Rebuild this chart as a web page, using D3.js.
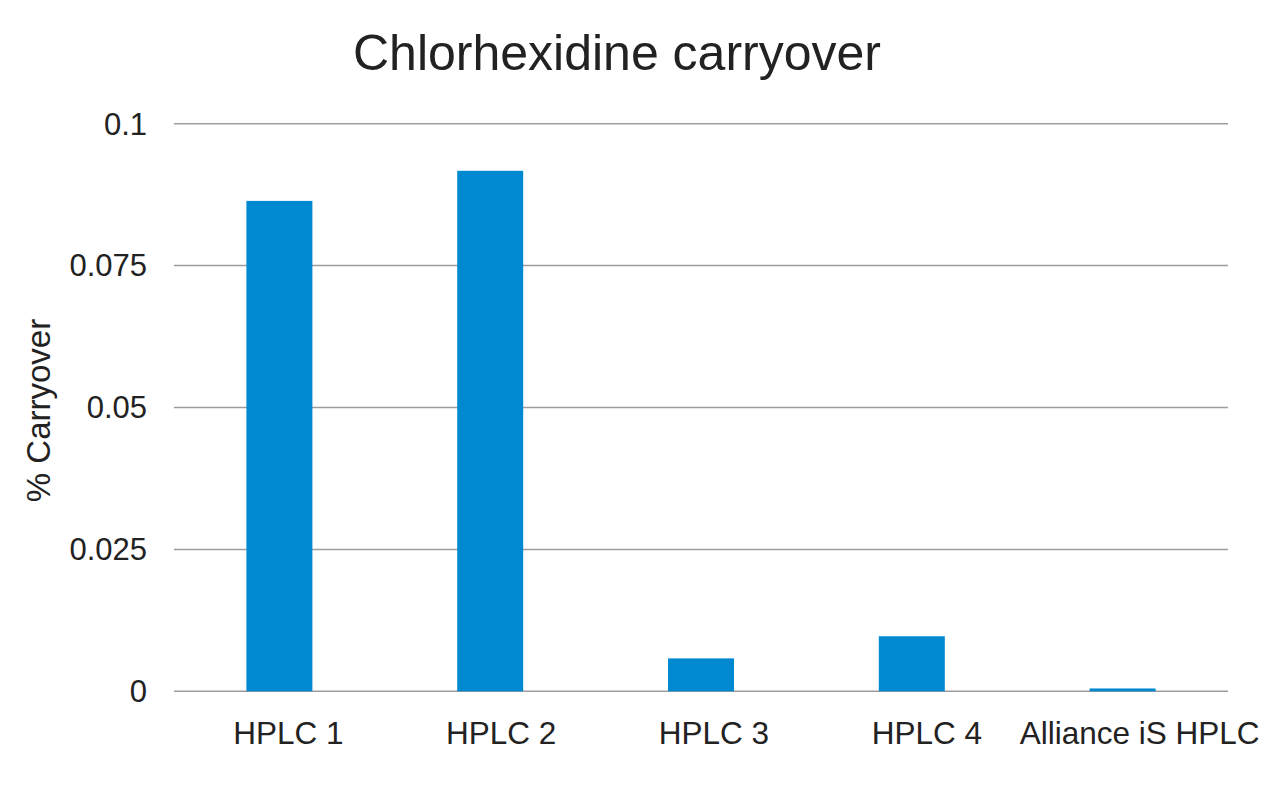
<!DOCTYPE html>
<html>
<head>
<meta charset="utf-8">
<script src="https://cdn.jsdelivr.net/npm/d3@7"></script>
<style>
  html, body { margin: 0; padding: 0; background: #fff; }
  svg { display: block; font-family: "Liberation Sans", Arial, sans-serif; }
</style>
</head>
<body>
<svg id="chart" width="1280" height="785"></svg>
<script>
const categories = ["HPLC 1", "HPLC 2", "HPLC 3", "HPLC 4", "Alliance iS HPLC"];
const carryover = [0.0864, 0.0917, 0.0058, 0.0097, 0.0005];
const yTicks = [0, 0.025, 0.05, 0.075, 0.1];
const yTickLabels = ["0", "0.025", "0.05", "0.075", "0.1"];
const chartTitle = "Chlorhexidine carryover";
const yTitle = "% Carryover";

const svg = d3.select("#chart");
const margin = { left: 174, right: 52, top: 123.7, bottom: 93.7 };
const W = 1280, H = 785;

const x = d3.scaleBand()
  .domain(categories)
  .range([margin.left, W - margin.right])
  .paddingInner(0.687)
  .paddingOuter(0.3435);

const y = d3.scaleLinear()
  .domain([0, 0.1])
  .range([H - margin.bottom, margin.top]);

// gridlines
svg.append("g")
  .selectAll("line")
  .data(yTicks)
  .join("line")
  .attr("x1", margin.left)
  .attr("x2", W - margin.right)
  .attr("y1", d => y(d))
  .attr("y2", d => y(d))
  .attr("stroke", "#9d9d9d")
  .attr("stroke-width", 1.5);

// y tick labels
svg.append("g")
  .selectAll("text")
  .data(yTicks)
  .join("text")
  .attr("x", margin.left - 27)
  .attr("y", d => y(d))
  .attr("dy", "0.35em")
  .attr("text-anchor", "end")
  .attr("font-size", 31)
  .attr("fill", "#222")
  .text((d, i) => yTickLabels[i]);

// bars
svg.append("g")
  .selectAll("rect")
  .data(categories)
  .join("rect")
  .attr("x", d => x(d))
  .attr("width", x.bandwidth())
  .attr("y", (d, i) => y(carryover[i]))
  .attr("height", (d, i) => y(0) - y(carryover[i]))
  .attr("fill", "#0089d0");

// x labels
svg.append("g")
  .selectAll("text")
  .data(categories)
  .join("text")
  .attr("x", d => x(d) + x.bandwidth() / 2)
  .attr("dx", (d, i) => 9 + i * 2)
  .attr("y", 744)
  .attr("text-anchor", "middle")
  .attr("font-size", 31.5)
  .attr("fill", "#222")
  .text(d => d);

// title
svg.append("text")
  .attr("x", 617)
  .attr("y", 70)
  .attr("text-anchor", "middle")
  .attr("font-size", 50)
  .attr("fill", "#222")
  .text(chartTitle);

// y title
svg.append("text")
  .attr("transform", `translate(50, ${(y(0) + y(0.1)) / 2 + 3}) rotate(-90)`)
  .attr("text-anchor", "middle")
  .attr("font-size", 33)
  .attr("fill", "#222")
  .text(yTitle);
</script>
</body>
</html>
